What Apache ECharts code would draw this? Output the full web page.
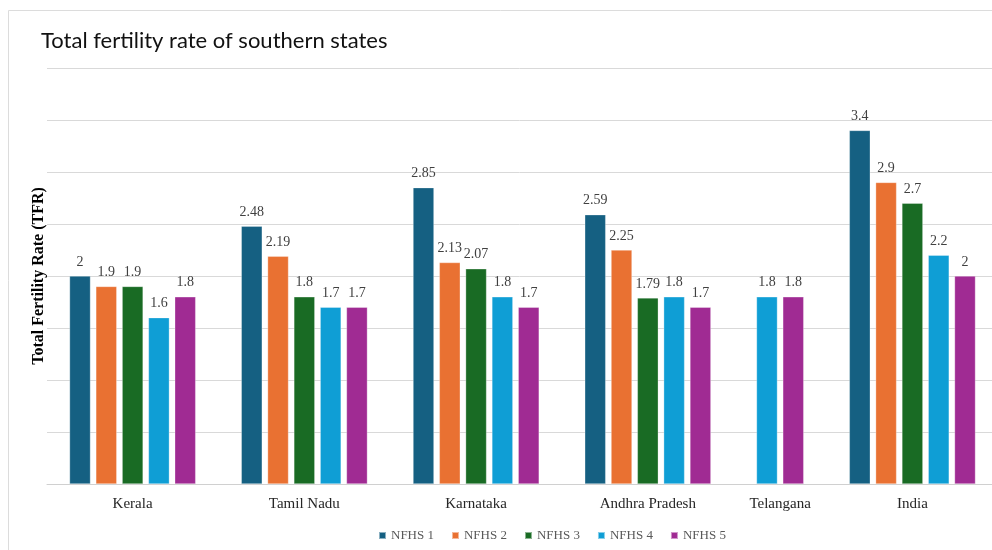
<!DOCTYPE html>
<html>
<head>
<meta charset="utf-8">
<script src="https://cdn.jsdelivr.net/npm/echarts@6/dist/echarts.min.js"></script>
<style>
html,body{margin:0;padding:0;background:#fff;}
#chart{width:992px;height:550px;}
</style>
</head>
<body>
<div id="chart"></div>
<script>
// ---- Data ----
const categories = ['Kerala', 'Tamil Nadu', 'Karnataka', 'Andhra Pradesh', 'Telangana', 'India'];
const seriesNames = ['NFHS 1', 'NFHS 2', 'NFHS 3', 'NFHS 4', 'NFHS 5'];
const nfhs1 = [2, 2.48, 2.85, 2.59, null, 3.4];
const nfhs2 = [1.9, 2.19, 2.13, 2.25, null, 2.9];
const nfhs3 = [1.9, 1.8, 2.07, 1.79, null, 2.7];
const nfhs4 = [1.6, 1.7, 1.8, 1.8, 1.8, 2.2];
const nfhs5 = [1.8, 1.7, 1.7, 1.7, 1.8, 2];
const yTicks = [0, 0.5, 1, 1.5, 2, 2.5, 3, 3.5, 4];

const seriesValues = [nfhs1, nfhs2, nfhs3, nfhs4, nfhs5];
const colors = ['#156082', '#E97132', '#196B24', '#0F9ED5', '#A02B93'];

// ---- Layout of bar slots (only present values take a slot) ----
const GROUP_GAP = 1.53; // extra slot units between groups
const seriesData = seriesValues.map(() => []);
const groupCenters = [];
let pos = 0;
categories.forEach((cat, i) => {
  const slots = [];
  seriesValues.forEach((vals, s) => {
    if (vals[i] !== null && vals[i] !== undefined) {
      seriesData[s].push([pos, vals[i]]);
      slots.push(pos);
      pos += 1;
    }
  });
  groupCenters.push((slots[0] + slots[slots.length - 1]) / 2);
  pos += GROUP_GAP;
});
const xMin = -1.255;
const xMax = xMin + 945 / 26.3;

const chart = echarts.init(document.getElementById('chart'));
chart.setOption({
  animation: false,
  backgroundColor: '#fff',
  graphic: [{
    type: 'rect',
    shape: { x: 8.5, y: 10.5, width: 1000, height: 600 },
    style: { fill: 'none', stroke: '#dcdcdc', lineWidth: 1 },
    silent: true, z: -1
  }],
  title: {
    text: 'Total fertility rate of southern states',
    left: 36, top: 25,
    textStyle: { fontFamily: 'Lato', fontWeight: 'normal', fontSize: 22, color: '#111' }
  },
  legend: {
    data: seriesNames,
    left: 378, top: 529, padding: 0,
    icon: 'rect',
    itemWidth: 7, itemHeight: 7, itemGap: 17,
    textStyle: { fontFamily: 'Liberation Serif', fontSize: 13, color: '#595959' }
  },
  grid: { left: 47, right: 0, top: 68, bottom: 66 },
  xAxis: {
    type: 'value',
    min: xMin, max: xMax,
    splitLine: { show: false },
    axisTick: { show: false },
    axisLine: { show: true, lineStyle: { color: '#d0d0d0', width: 1 } },
    axisLabel: {
      customValues: groupCenters,
      margin: 13,
      fontFamily: 'Liberation Serif', fontSize: 15, color: '#262626',
      formatter: function (v) {
        let best = 0, bd = Infinity;
        groupCenters.forEach((c, i) => { const d = Math.abs(c - v); if (d < bd) { bd = d; best = i; } });
        return categories[best];
      }
    }
  },
  yAxis: {
    type: 'value',
    min: yTicks[0], max: yTicks[yTicks.length - 1], interval: yTicks[1] - yTicks[0],
    name: 'Total Fertility Rate (TFR)',
    nameLocation: 'middle',
    nameGap: 0,
    nameTextStyle: { fontFamily: 'Liberation Serif', fontWeight: 'bold', fontSize: 16, color: '#000' },
    axisLabel: { show: false },
    axisTick: { show: false },
    axisLine: { show: false },
    splitLine: { lineStyle: { color: '#d9d9d9', width: 1 } }
  },
  series: seriesNames.map((name, s) => ({
    name: name,
    type: 'bar',
    data: seriesData[s],
    barWidth: 21,
    barGap: '-100%',
    itemStyle: { color: colors[s], borderColor: 'rgba(255,255,255,0.5)', borderWidth: 0.6 },
    label: {
      show: true, position: 'top', distance: 7,
      fontFamily: 'Liberation Serif', fontSize: 14, color: '#404040',
      formatter: p => String(p.value[1])
    }
  }))
});
</script>
</body>
</html>
